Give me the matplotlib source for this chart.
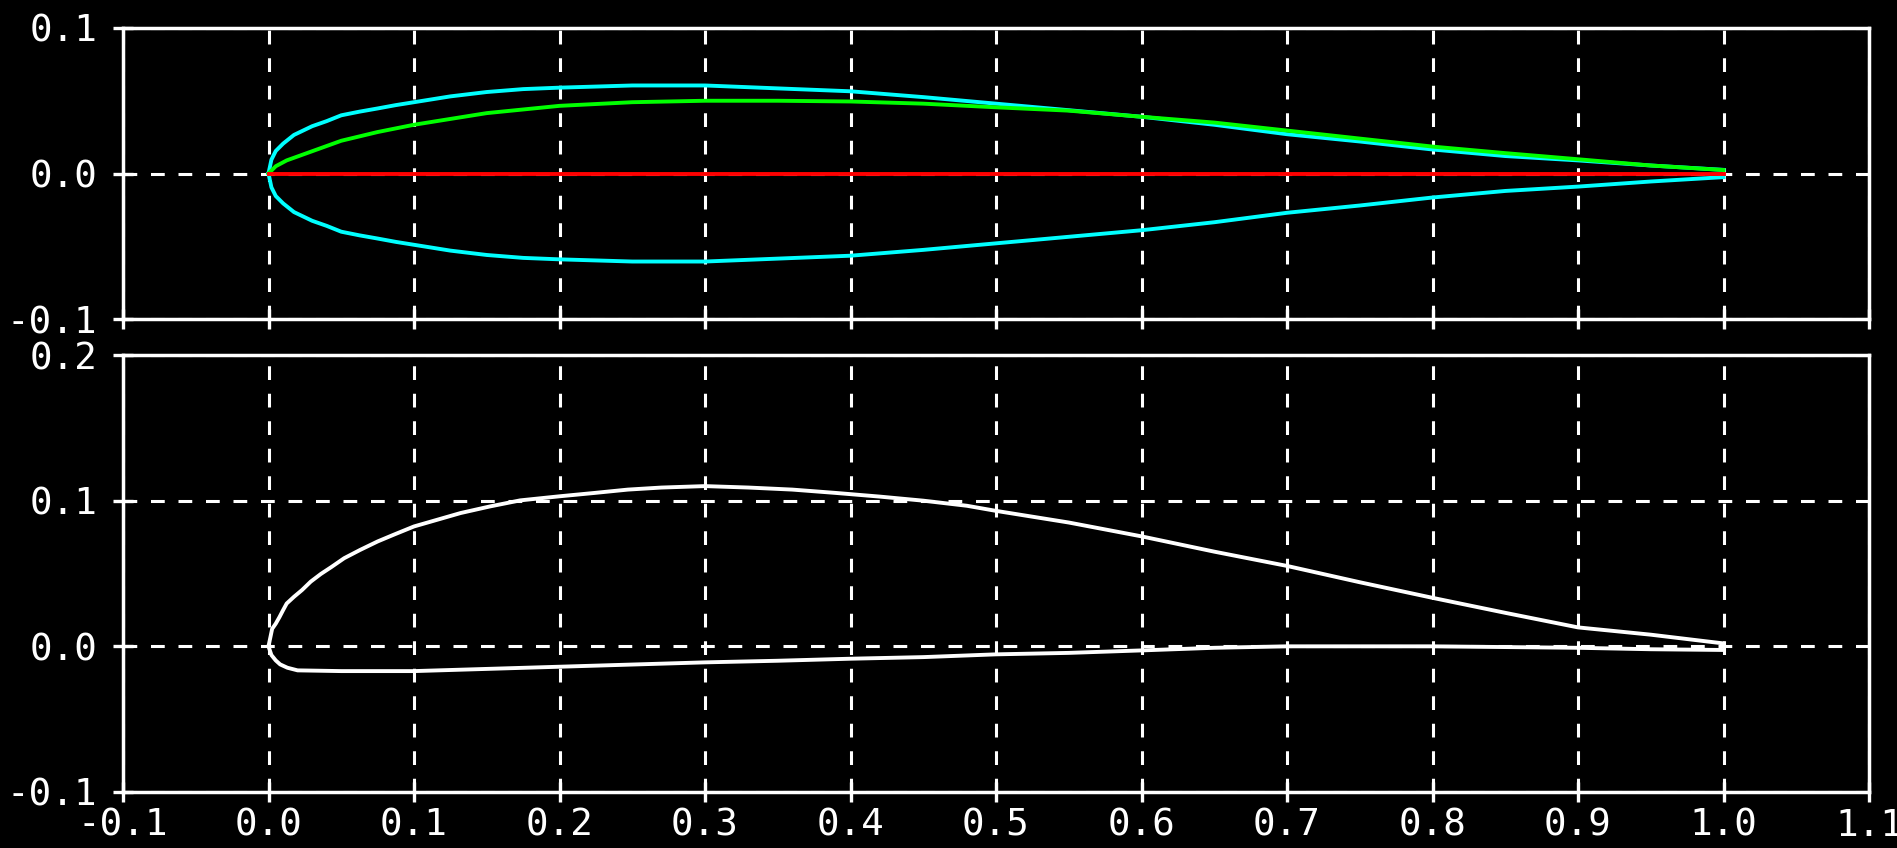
import matplotlib
matplotlib.use("Agg")
import matplotlib.pyplot as plt

# ---- data ----
# top panel: thickness half-distribution (cyan), camber line (green), chord (red)
x_thick = [0, 0.002, 0.005, 0.01, 0.0175, 0.03, 0.04, 0.05, 0.0625, 0.075, 0.0875,
           0.1, 0.125, 0.15, 0.175, 0.2, 0.25, 0.3, 0.35, 0.4, 0.45, 0.5, 0.55,
           0.6, 0.65, 0.7, 0.75, 0.8, 0.85, 0.9, 0.95, 1.0]
y_thick = [0, 0.0095, 0.0155, 0.0205, 0.0265, 0.0325, 0.036, 0.040, 0.0425, 0.0447,
           0.047, 0.049, 0.053, 0.056, 0.058, 0.059, 0.0605, 0.0605, 0.0585, 0.0565,
           0.0525, 0.048, 0.0435, 0.039, 0.0335, 0.027, 0.022, 0.0165, 0.012,
           0.009, 0.0055, 0.0025]

x_camber = [0, 0.005, 0.0125, 0.025, 0.05, 0.075, 0.1, 0.15, 0.2, 0.25, 0.3, 0.35,
            0.4, 0.45, 0.5, 0.55, 0.6, 0.65, 0.7, 0.75, 0.8, 0.85, 0.9, 0.95, 1.0]
y_camber = [0, 0.005, 0.009, 0.0135, 0.0225, 0.0285, 0.0335, 0.0415, 0.0465, 0.049,
            0.050, 0.050, 0.0495, 0.048, 0.0455, 0.0432, 0.039, 0.035, 0.0295,
            0.024, 0.0185, 0.014, 0.0098, 0.0055, 0.0024]

x_chord = [0.0, 1.0]
y_chord = [0.0, 0.0]

# bottom panel: resulting airfoil
x_upper = [0, 0.0025, 0.005, 0.0075, 0.01, 0.0125, 0.0175, 0.023, 0.029, 0.036,
           0.043, 0.052, 0.063, 0.075, 0.086, 0.1, 0.116, 0.132, 0.152, 0.173, 0.2,
           0.224, 0.247, 0.27, 0.3, 0.33, 0.36, 0.39, 0.42, 0.45, 0.48, 0.5, 0.55,
           0.6, 0.65, 0.7, 0.75, 0.8, 0.85, 0.9, 0.95, 1.0]
y_upper = [0, 0.012, 0.0156, 0.020, 0.0248, 0.0294, 0.034, 0.0386, 0.0444, 0.0497,
           0.0543, 0.0605, 0.0662, 0.072, 0.0766, 0.0823, 0.0869, 0.0915, 0.096,
           0.1002, 0.103, 0.1053, 0.1076, 0.109, 0.110, 0.109, 0.1076, 0.1053,
           0.1028, 0.100, 0.0965, 0.093, 0.085, 0.0755, 0.065, 0.0552, 0.044,
           0.0333, 0.023, 0.013, 0.008, 0.002]

x_lower = [0, 0.002, 0.005, 0.008, 0.013, 0.02, 0.05, 0.1, 0.15, 0.2, 0.25, 0.3,
           0.35, 0.4, 0.45, 0.5, 0.55, 0.6, 0.65, 0.7, 0.8, 0.9, 0.95, 1.0]
y_lower = [0, -0.006, -0.0097, -0.0124, -0.0147, -0.0165, -0.017, -0.017, -0.0155,
           -0.014, -0.0125, -0.011, -0.0099, -0.0085, -0.0074, -0.0055, -0.0045,
           -0.0028, -0.001, 0, 0, -0.001, -0.002, -0.0025]

x_ticks = [-0.1, 0.0, 0.1, 0.2, 0.3, 0.4, 0.5, 0.6, 0.7, 0.8, 0.9, 1.0, 1.1]
y_ticks_top = [-0.1, 0.0, 0.1]
y_ticks_bot = [-0.1, 0.0, 0.1, 0.2]

# ---- drawing ----
W, H, DPI = 1897, 848, 100
fig = plt.figure(figsize=(W / DPI, H / DPI), dpi=DPI, facecolor="black")
plt.rcParams["font.family"] = ["DejaVu Sans Mono"]

def px_rect(left, top, right, bottom):
    return [left / W, 1 - bottom / H, (right - left) / W, (bottom - top) / H]

ax1 = fig.add_axes(px_rect(123, 28, 1869, 319))
ax2 = fig.add_axes(px_rect(123, 355, 1869, 792))

LW = 2.8
neg_thick = [-v for v in y_thick]
ax1.plot(x_thick, y_thick, color="#00FFFF", lw=LW, zorder=3)
ax1.plot(x_thick, neg_thick, color="#00FFFF", lw=LW, zorder=3)
ax1.plot(x_camber, y_camber, color="#00FF00", lw=LW, zorder=3)
ax1.plot(x_chord, y_chord, color="#FF0000", lw=LW, zorder=4)

ax2.plot(x_upper, y_upper, color="white", lw=LW, zorder=3)
ax2.plot(x_lower, y_lower, color="white", lw=LW, zorder=3)

for ax, yt in ((ax1, y_ticks_top), (ax2, y_ticks_bot)):
    ax.set_facecolor("black")
    ax.set_xlim(-0.1, 1.1)
    ax.set_ylim(yt[0], yt[-1])
    ax.set_xticks(x_ticks)
    ax.set_yticks(yt)
    ax.set_yticklabels([f"{v:.1f}" for v in yt])
    ax.set_xticklabels([f"{v:.1f}" for v in x_ticks])
    for s in ax.spines.values():
        s.set_color("white")
        s.set_linewidth(2.5)
        s.set_zorder(5)
    ax.grid(True, color="white", lw=2.2, linestyle=(0, (4.5, 4.5)), zorder=1)
    ax.set_axisbelow(True)
    ax.tick_params(direction="inout", length=15, width=2.4, color="white",
                   labelcolor="white", labelsize=27)
    ax.tick_params(axis="y", pad=11)
    ax.tick_params(axis="x", pad=4)

ax1.tick_params(labelbottom=False)

fig.savefig("out.png", dpi=DPI, facecolor="black")
